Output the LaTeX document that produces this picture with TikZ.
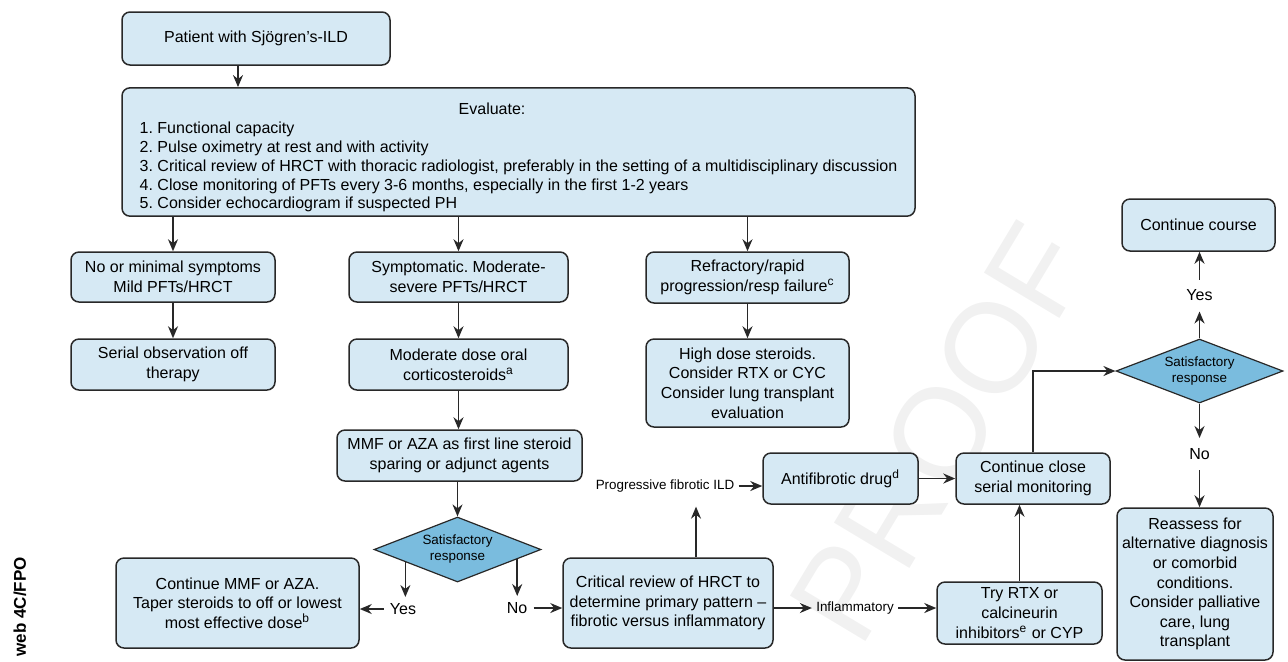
\documentclass[tikz,border=0pt]{standalone}
\usepackage{fontspec}
\setmainfont{Liberation Sans}
\usetikzlibrary{arrows.meta,shapes.geometric,calc}
\definecolor{boxfill}{RGB}{214,233,244}
\definecolor{decfill}{RGB}{122,188,222}
\definecolor{edge}{RGB}{40,40,40}
\frenchspacing

\begin{document}
\begin{tikzpicture}[
	box/.style={draw=edge, fill=boxfill, rounded corners=4pt, line width=0.75pt, align=center, inner sep=2pt, font=\fontsize{8}{9.8}\selectfont},
	dec/.style={diamond, draw=edge, fill=decfill, line width=0.6pt, aspect=2.57, inner sep=0pt, align=center, font=\fontsize{6.7}{8}\selectfont},
	lbl/.style={inner sep=3pt, font=\fontsize{8}{9.8}\selectfont},
	small/.style={inner sep=2pt, font=\fontsize{6.7}{8}\selectfont},
	arr/.style={-{Stealth[length=6pt,width=5pt]}, line width=0.85pt, draw=edge},
	x=0.5pt, y=-0.5pt
]
\useasboundingbox (0,0) rectangle (1288,661);

% Proof marks
\node[rotate=59, text=gray!11, font=\fontsize{64}{64}\selectfont] (wm) at (940,433) {PROOF};
\node[rotate=90, anchor=east, font=\fontsize{8.5}{10}\selectfont\bfseries] (fpo) at (20,550) {web 4C/FPO};

% Top
\node[box, minimum width=134pt, minimum height=26.5pt] (patient) at (256,38.5) {Patient with Sjögren’s-ILD};
\node[box, minimum width=396.5pt, minimum height=62pt, align=left, font=\fontsize{8}{9.4}\selectfont] (eval) at (518.5,152) {\rule{0pt}{11.5pt}\hspace*{159.5pt}Evaluate:\\
1. Functional capacity\\
2. Pulse oximetry at rest and with activity\\
3. Critical review of HRCT with thoracic radiologist, preferably in the setting of a multidisciplinary discussion\\
4. Close monitoring of PFTs every 3-6 months, especially in the first 1-2 years\\
5. Consider echocardiogram if suspected PH};

% Left column
\node[box, minimum width=102pt, minimum height=25pt] (nomin) at (173,277) {No or minimal symptoms\\ Mild PFTs/HRCT};
\node[box, minimum width=102pt, minimum height=25.5pt] (serial) at (173,364.5) {Serial observation off\\ therapy};

% Middle column
\node[box, minimum width=109.5pt, minimum height=25pt] (sympt) at (458.5,277) {Symptomatic. Moderate-\\ severe PFTs/HRCT};
\node[box, minimum width=109.5pt, minimum height=25.5pt] (modd) at (458.5,364.5) {Moderate dose oral\\ corticosteroids\textsuperscript{a}};
\node[box, minimum width=122.5pt, minimum height=25.5pt] (mmf) at (459.5,455.5) {MMF or AZA as first line steroid\\ sparing or adjunct agents};
\node[dec, minimum width=83.5pt, minimum height=32.5pt] (d1) at (457.5,549.5) {Satisfactory\\ response};
\node[lbl] (yes1) at (403,609) {Yes};
\node[lbl] (no1) at (517,608) {No};
\node[box, minimum width=121.5pt, minimum height=45pt] (cmmf) at (237.5,603) {Continue MMF or AZA.\\ Taper steroids to off or lowest\\ most effective dose\textsuperscript{b}};
\node[box, minimum width=105pt, minimum height=45pt] (crit) at (668,603) {Critical review of HRCT to\\ determine primary pattern –\\ fibrotic versus inflammatory};

% Right column
\node[box, minimum width=101.5pt, minimum height=25.5pt] (refr) at (747.5,277.5) {Refractory/rapid\\ progression/resp failure\textsuperscript{c}};
\node[box, minimum width=101.5pt, minimum height=44pt] (high) at (747.5,383) {High dose steroids.\\ Consider RTX or CYC\\ Consider lung transplant\\ evaluation};
\node[small] (prog) at (665,486) {Progressive fibrotic ILD};
\node[small] (infl) at (855,608) {Inflammatory};
\node[box, minimum width=77.5pt, minimum height=25.5pt] (antifib) at (840.5,478.5) {Antifibrotic drug\textsuperscript{d}};
\node[box, minimum width=77pt, minimum height=25.5pt] (cclose) at (1033,478.5) {Continue close\\ serial monitoring};
\node[box, minimum width=82.5pt, minimum height=31pt] (try) at (1019.5,613) {Try RTX or\\ calcineurin\\ inhibitors\textsuperscript{e} or CYP};

% Far right
\node[dec, minimum width=83.5pt, minimum height=32pt] (d2) at (1199.5,371) {Satisfactory\\ response};
\node[lbl, inner ysep=5pt] (yes2) at (1199.5,295.5) {Yes};
\node[lbl, inner ysep=5pt] (no2) at (1199.5,454) {No};
\node[box, minimum width=76.5pt, minimum height=26pt] (ccourse) at (1198.5,225) {Continue course};
\node[box, minimum width=78pt, minimum height=76pt] (reass) at (1195,584) {Reassess for\\ alternative diagnosis\\ or comorbid\\ conditions.\\ Consider palliative\\ care, lung\\ transplant};

% Arrows
\coordinate (pa) at ([xshift=-9pt]patient.south);
\draw[arr] (pa) -- (pa |- eval.north);
\draw[arr] (eval.south -| nomin.north) -- (nomin.north);
\draw[arr] (eval.south -| sympt.north) -- (sympt.north);
\draw[arr] (eval.south -| refr.north) -- (refr.north);
\draw[arr] (nomin) -- (serial);
\draw[arr] (sympt) -- (modd);
\draw[arr] (refr) -- (high);
\draw[arr] (modd.south) -- (modd.south |- mmf.north);
\draw[arr] (d1.north |- mmf.south) -- (d1.north);

\coordinate (d1y) at ($(d1.west)!0.38!(d1.south)$);
\coordinate (d1n) at ($(d1.east)!0.29!(d1.south)$);
\draw[arr] (d1y) -- (d1y |- yes1.north);
\draw[arr] (yes1.west) -- (cmmf.east |- yes1.west);
\draw[arr] (d1n) -- (d1n |- no1.north);
\draw[arr] (no1.east) -- (crit.west |- no1.east);

\coordinate (cu) at ([xshift=14pt]crit.north);
\draw[arr, shorten >=5pt] (cu) -- (cu |- prog.south);
\draw[arr] (prog.east) -- (antifib.west |- prog.east);
\draw[arr] (crit.east |- infl.west) -- (infl.west);
\draw[arr] (infl.east) -- (try.west |- infl.east);
\draw[arr] (antifib) -- (cclose);
\draw[arr] (try.north) -- (try.north |- cclose.south);
\draw[arr] (cclose.north) |- (d2.west);

\draw[arr] (d2.north) -- (yes2.south);
\draw[arr] (yes2.north) -- (yes2.north |- ccourse.south);
\draw[arr] (d2.south) -- (no2.north);
\draw[arr] (no2.south) -- (no2.south |- reass.north);
\end{tikzpicture}
\end{document}
